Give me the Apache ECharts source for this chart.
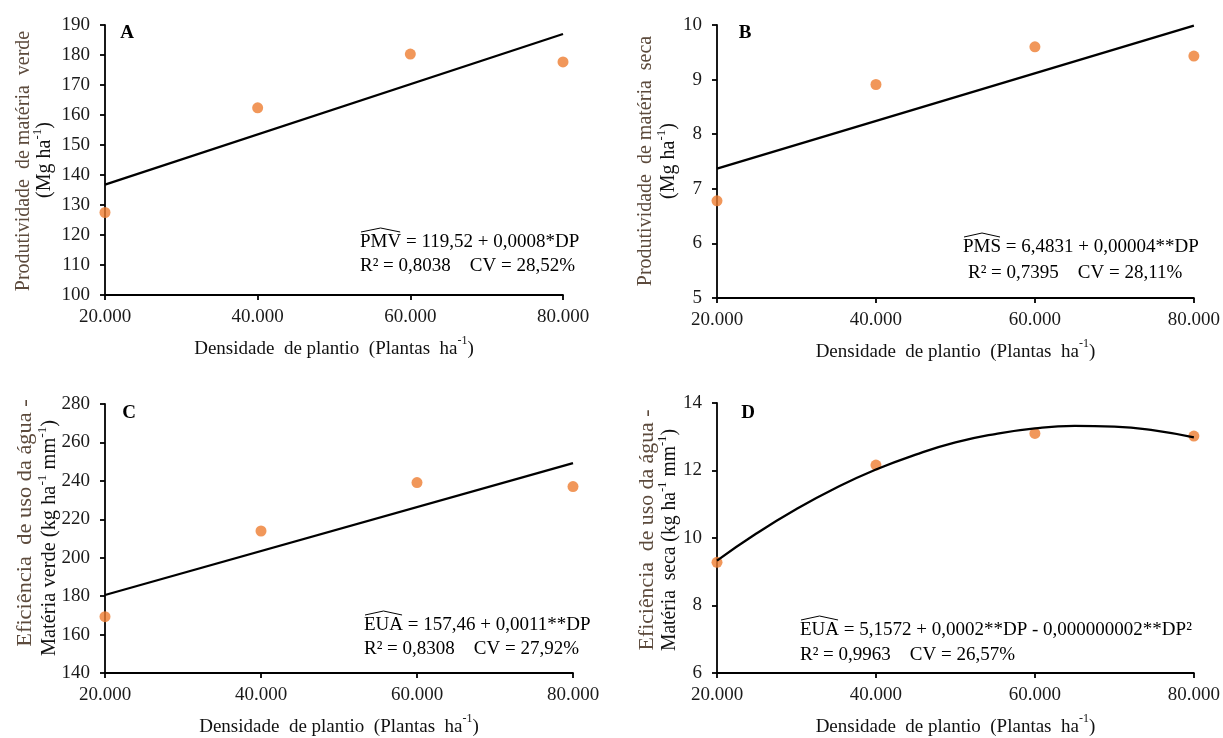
<!DOCTYPE html>
<html>
<head>
<meta charset="utf-8">
<script src="https://cdn.jsdelivr.net/npm/echarts@6/dist/echarts.min.js"></script>
<style>
  html, body { margin: 0; padding: 0; background: #ffffff; }
  #chart { width: 1223px; height: 738px; }
</style>
</head>
<body>
<div id="chart"></div>
<script>
// Planting density (plants per hectare) and its tick labels
const densities = [20000, 40000, 60000, 80000];
const densityLabels = ['20.000', '40.000', '60.000', '80.000'];

// A - green matter yield (Mg/ha)
const pmvObserved = [127.5, 162.4, 180.3, 177.7];
const pmvTrendX = [20000, 80000];
const pmvTrend = [136.8, 187.0];

// B - dry matter yield (Mg/ha)
const pmsObserved = [6.78, 8.91, 9.60, 9.43];
const pmsTrendX = [20000, 80000];
const pmsTrend = [7.37, 9.99];

// C - water use efficiency, green matter (kg/ha/mm)
const euaVerdeObserved = [169.3, 213.9, 239.1, 237.0];
const euaVerdeTrendX = [20000, 80000];
const euaVerdeTrend = [180.6, 249.2];

// D - water use efficiency, dry matter (kg/ha/mm), quadratic fit
const euaSecaObserved = [9.28, 12.16, 13.10, 13.02];
const euaSecaCurveX = [20000, 25000, 30000, 35000, 40000, 45000, 50000, 55000, 60000, 65000, 70000, 75000, 80000];
const euaSecaCurve = [9.33, 10.14, 10.86, 11.49, 12.03, 12.47, 12.83, 13.08, 13.25, 13.32, 13.30, 13.19, 12.98];

const FONT = '"Liberation Serif", "Times New Roman", serif';
const DOT = '#ED7D31';
const FS = 19;

const grids = [
  { left: 105, top: 25, width: 458, height: 270 },
  { left: 717, top: 25, width: 479, height: 273 },
  { left: 105, top: 404, width: 468, height: 269 },
  { left: 717, top: 403, width: 478, height: 270 }
];
const yRanges = [
  { min: 100, max: 190, interval: 10 },
  { min: 5, max: 10, interval: 1 },
  { min: 140, max: 280, interval: 20 },
  { min: 6, max: 14, interval: 2 }
];
const observedSets = [pmvObserved, pmsObserved, euaVerdeObserved, euaSecaObserved];
const fitSets = [
  [pmvTrendX, pmvTrend],
  [pmsTrendX, pmsTrend],
  [euaVerdeTrendX, euaVerdeTrend],
  [euaSecaCurveX, euaSecaCurve]
];

const xTitle = '{t|Densidade  de plantio  (Plantas  ha}{s|-1}{t|)}';
const richTitle = {
  t: { fontFamily: FONT, fontSize: FS, color: '#111', lineHeight: 24, verticalAlign: 'bottom' },
  s: { fontFamily: FONT, fontSize: 12, color: '#111', lineHeight: 24, verticalAlign: 'top' }
};

const xAxes = grids.map((g, i) => ({
  gridIndex: i,
  type: 'value',
  min: 20000, max: 80000, interval: 20000,
  axisLine: { show: true, lineStyle: { color: '#000', width: 1.8 } },
  axisTick: { show: true, length: 5, lineStyle: { color: '#000', width: 1.8 } },
  splitLine: { show: false },
  axisLabel: {
    margin: 13, color: '#1a1a1a', fontFamily: FONT, fontSize: FS,
    formatter: v => densityLabels[densities.indexOf(v)] || ''
  },
  name: xTitle,
  nameLocation: 'middle',
  nameGap: 40,
  nameTextStyle: { rich: richTitle }
}));

const yAxes = grids.map((g, i) => ({
  gridIndex: i,
  type: 'value',
  min: yRanges[i].min, max: yRanges[i].max, interval: yRanges[i].interval,
  axisLine: { show: true, lineStyle: { color: '#000', width: 1.8 } },
  axisTick: { show: true, length: 5, lineStyle: { color: '#000', width: 1.8 } },
  splitLine: { show: false },
  axisLabel: { margin: 15, color: '#1a1a1a', fontFamily: FONT, fontSize: FS }
}));

const series = [];
observedSets.forEach((obs, i) => {
  series.push({
    type: 'scatter',
    xAxisIndex: i, yAxisIndex: i,
    symbol: 'circle', symbolSize: 11,
    itemStyle: { color: DOT },
    data: densities.map((x, k) => [x, obs[k]]),
    z: 2
  });
  const [fx, fy] = fitSets[i];
  series.push({
    type: 'line',
    xAxisIndex: i, yAxisIndex: i,
    showSymbol: false, symbol: 'none',
    smooth: i === 3,
    lineStyle: { color: '#000', width: 2.3 },
    data: fx.map((x, k) => [x, fy[k]]),
    z: 3
  });
});

// Graphic annotations: panel letters, rotated y titles, regression equations
const measure = document.createElement('canvas').getContext('2d');
function textWidth(str, size) {
  measure.font = size + 'px ' + FONT;
  return measure.measureText(str).width;
}

const graphics = [];
[['A', 127, 33], ['B', 745, 33], ['C', 129, 413], ['D', 748, 413]].forEach(([l, x, y]) => {
  graphics.push({
    type: 'text', x: x, y: y,
    style: { text: l, fontFamily: FONT, fontSize: FS, fontWeight: 'bold', fill: '#000', align: 'center', verticalAlign: 'middle' }
  });
});

// Rotated y-axis title line; stretch widens the line along its reading direction
function yTitle(x, y, text, color, stretch) {
  graphics.push({
    type: 'text', x: x, y: y, rotation: Math.PI / 2, scaleX: stretch || 1,
    style: {
      text: text, align: 'center', verticalAlign: 'middle',
      rich: {
        t: { fontFamily: FONT, fontSize: 20, fill: color, lineHeight: 24, verticalAlign: 'bottom' },
        s: { fontFamily: FONT, fontSize: 13, fill: color, lineHeight: 24, verticalAlign: 'top' }
      }
    }
  });
}
const brown = '#5c4a3c';
yTitle(22, 161, '{t|Produtividade  de matéria  verde}', brown);
yTitle(43, 160, '{t|(Mg ha}{s|-1}{t|)}', '#111');
yTitle(644, 161, '{t|Produtividade  de matéria  seca}', brown);
yTitle(667, 161, '{t|(Mg ha}{s|-1}{t|)}', '#111');
yTitle(24, 523, '{t|Eficiência  de uso da água -}', brown, 1.12);
yTitle(48, 538, '{t|Matéria verde (kg ha}{s|-1}{t| mm}{s|-1}{t|)}', '#111', 1.02);
yTitle(646, 530, '{t|Eficiência  de uso da água -}', brown, 1.09);
yTitle(668, 540, '{t|Matéria  seca (kg ha}{s|-1}{t| mm}{s|-1}{t|)}', '#111', 0.98);

function equation(x, y1, y2, dx2, symbolText, rest, stats) {
  const w = textWidth(symbolText, FS);
  graphics.push({
    type: 'text', x: x, y: y1,
    style: { text: symbolText + rest, fontFamily: FONT, fontSize: FS, fill: '#000', align: 'left', verticalAlign: 'middle' }
  });
  graphics.push({
    type: 'polyline',
    shape: { points: [[x + 1, y1 - 10], [x + w / 2, y1 - 14], [x + w - 1, y1 - 10]] },
    style: { stroke: '#000', lineWidth: 1, fill: null }
  });
  graphics.push({
    type: 'text', x: x + dx2, y: y2,
    style: { text: stats, fontFamily: FONT, fontSize: FS, fill: '#000', align: 'left', verticalAlign: 'middle' }
  });
}
equation(360, 242, 266, 0, 'PMV', ' = 119,52 + 0,0008*DP', 'R² = 0,8038    CV = 28,52%');
equation(963, 247, 273, 5, 'PMS', ' = 6,4831 + 0,00004**DP', 'R² = 0,7395    CV = 28,11%');
equation(364, 625, 649, 0, 'EUA', ' = 157,46 + 0,0011**DP', 'R² = 0,8308    CV = 27,92%');
equation(800, 630, 655, 0, 'EUA', ' = 5,1572 + 0,0002**DP - 0,000000002**DP²', 'R² = 0,9963    CV = 26,57%');

const chart = echarts.init(document.getElementById('chart'), null, { renderer: 'canvas' });
chart.setOption({
  backgroundColor: '#ffffff',
  animation: false,
  grid: grids,
  xAxis: xAxes,
  yAxis: yAxes,
  series: series,
  graphic: graphics
});
</script>
</body>
</html>
